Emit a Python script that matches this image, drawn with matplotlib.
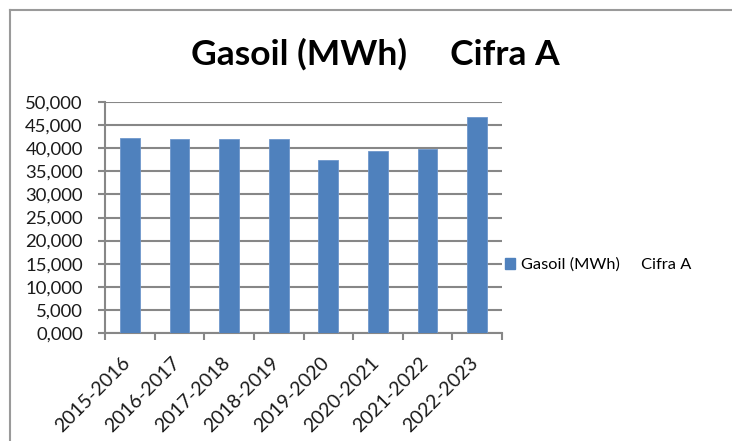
import matplotlib.pyplot as plt
import matplotlib.transforms as mtransforms
from matplotlib.patches import Patch
from matplotlib.lines import Line2D
import numpy as np

plt.rcParams['font.family'] = ['Lato', 'DejaVu Sans']

seasons = ['2015-2016', '2016-2017', '2017-2018', '2018-2019',
           '2019-2020', '2020-2021', '2021-2022', '2022-2023']
gasoil = [42200, 42000, 42000, 42000, 37500, 39500, 39800, 46700]
yticks = [0, 5000, 10000, 15000, 20000, 25000, 30000, 35000, 40000, 45000, 50000]
series_name = 'Gasoil (MWh)     Cifra A'

bar_color = '#4F81BD'
grid_color = '#878787'

fig = plt.figure(figsize=(7.32, 4.41), dpi=100)
ax = fig.add_axes([105 / 732, 1 - 333 / 441, 397 / 732, 231 / 441])

x = np.arange(len(seasons))
ax.bar(x, gasoil, width=0.4, color=bar_color, edgecolor='#6F97CC', linewidth=0.6, zorder=3)

ax.set_xlim(-0.5, len(seasons) - 0.5)
ax.set_ylim(0, 50000)
ax.set_yticks(yticks)
ax.set_yticklabels([f"{v / 1000:.3f}".replace('.', ',') for v in yticks])
ax.yaxis.grid(True, color=grid_color, linewidth=1.5, zorder=0)

ax.set_xticks(x)
ax.set_xticks(np.arange(len(seasons) + 1) - 0.5, minor=True)
ax.tick_params(axis='x', which='major', length=0, pad=15)
ax.tick_params(axis='x', which='minor', length=5, width=1.5, color=grid_color, direction='out')
ax.tick_params(axis='y', length=5, width=1.5, color=grid_color, pad=11, labelsize=13.3, labelcolor='#1a1a1a')
offset = mtransforms.ScaledTranslation(4 / 100, 0, fig.dpi_scale_trans)
labels = ax.set_xticklabels(seasons, rotation=45, ha='right', va='top', fontsize=14, color='#1a1a1a')
for lab in labels:
    lab.set_transform(lab.get_transform() + offset)

for side in ['top', 'right']:
    ax.spines[side].set_visible(False)
for side in ['left', 'bottom']:
    ax.spines[side].set_color(grid_color)
    ax.spines[side].set_linewidth(1.5)

fig.text(375 / 732, 1 - 65 / 441, series_name, fontsize=25.5, fontweight='bold',
         ha='center', va='baseline', color='black')

fig.legend(handles=[Patch(facecolor=bar_color, edgecolor=bar_color)], labels=[series_name],
           loc='center left', bbox_to_anchor=(502 / 732, 1 - 265 / 441), frameon=False,
           fontsize=11.8, handlelength=0.62, handleheight=0.62, handletextpad=0.35,
           borderaxespad=0, borderpad=0.2)

# outer chart border (left and top edges visible)
fig.add_artist(Line2D([10 / 732, 10 / 732], [0, 1 - 10 / 441], transform=fig.transFigure,
                      color='#9a9a9a', linewidth=1.5))
fig.add_artist(Line2D([10 / 732, 1], [1 - 10 / 441, 1 - 10 / 441], transform=fig.transFigure,
                      color='#9a9a9a', linewidth=1.5))

fig.savefig('out.png', dpi=100)
